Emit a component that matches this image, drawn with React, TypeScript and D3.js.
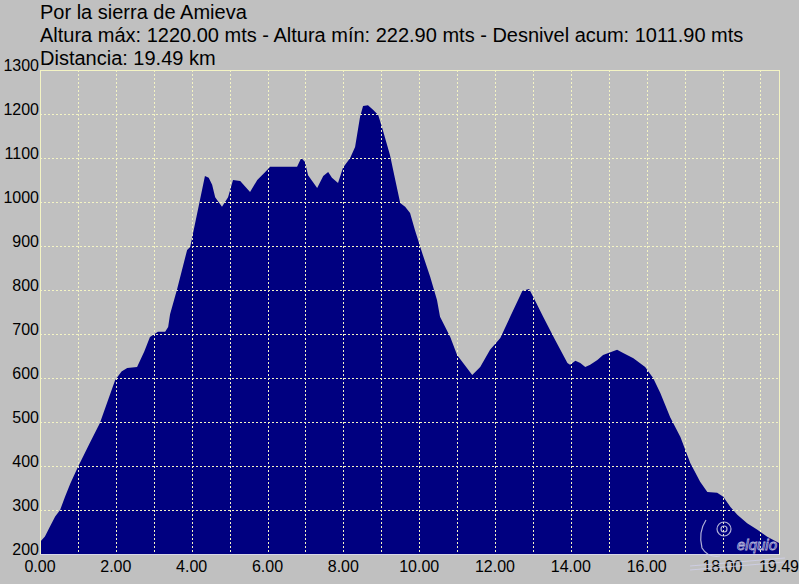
import React from "react";
import * as d3 from "d3";

const titleLines = [
  "Por la sierra de Amieva",
  "Altura máx: 1220.00 mts - Altura mín: 222.90 mts - Desnivel acum: 1011.90 mts",
  "Distancia: 19.49 km",
];

const distKm = [
  0.0, 0.13, 0.26, 0.4, 0.53, 0.66, 0.8, 1.0, 1.3, 1.58, 1.98, 2.15, 2.3, 2.56, 2.75, 2.9, 3.11, 3.3, 3.38, 3.43,
  3.61, 3.88, 3.96, 4.22, 4.35, 4.45, 4.54, 4.62, 4.8, 4.96, 5.09, 5.28, 5.54, 5.73, 5.94, 6.07, 6.78, 6.89, 6.99,
  7.07, 7.31, 7.47, 7.6, 7.7, 7.86, 7.99, 8.18, 8.31, 8.44, 8.52, 8.65, 8.79, 8.92, 9.02, 9.23, 9.37, 9.5, 9.63,
  9.76, 9.89, 10.08, 10.29, 10.47, 10.55, 10.82, 11.0, 11.16, 11.4, 11.61, 11.87, 12.14, 12.4, 12.72, 12.8, 12.9,
  13.01, 13.27, 13.59, 13.91, 13.98, 14.12, 14.25, 14.38, 14.51, 14.7, 14.85, 14.99, 15.22, 15.38, 15.65, 15.96,
  16.17, 16.36, 16.62, 16.89, 17.15, 17.41, 17.6, 17.86, 18.02, 18.21, 18.39, 18.65, 18.92, 19.18, 19.49,
];

const elevM = [
  227, 240, 262, 285, 300, 330, 360, 398, 450, 498, 595, 615, 623, 625, 660, 693, 705, 705, 716, 745,
  800, 891, 898, 1005, 1059, 1055, 1039, 1011, 989, 1011, 1050, 1048, 1023, 1050, 1068, 1080, 1080, 1100, 1091,
  1061, 1032, 1059, 1068, 1055, 1043, 1078, 1100, 1125, 1193, 1218, 1220, 1209, 1198, 1170, 1107, 1050, 998, 989,
  975, 936, 884, 830, 777, 739, 693, 652, 634, 607, 625, 664, 691, 739, 798, 800, 802,
  784, 739, 686, 634, 630, 639, 634, 625, 630, 641, 652, 657, 664, 657, 645, 625,
  600, 566, 511, 466, 407, 364, 341, 339, 330, 307, 289, 270, 255, 239, 225,
];

const yTicks = [200, 300, 400, 500, 600, 700, 800, 900, 1000, 1100, 1200, 1300];
const xLabelTicks = [0, 2, 4, 6, 8, 10, 12, 14, 16, 18];
const xGridTicks = d3.range(1, 20);
const totalKm = 19.49;

const W = 799;
const H = 584;
const BG = "#c0c0c0";
const FILL = "#000080";
const GRID = "#f4f4c4";
const FONT = "'Liberation Sans', Arial, sans-serif";

export default function App() {
  const x = d3.scaleLinear().domain([0, totalKm]).range([40, 779]);
  const y = d3.scaleLinear().domain([200, 1300]).range([554, 70]);

  const pts = distKm.map((d, i) => [d, elevM[i]] as [number, number]);
  const area = d3
    .area<[number, number]>()
    .x((d) => x(d[0]))
    .y0(y(200))
    .y1((d) => y(d[1]))
    .curve(d3.curveLinear);

  return (
    <div style={{ position: "fixed", left: 0, top: 0, width: W, height: H }}>
      <svg width={W} height={H} style={{ display: "block" }}>
        <rect x={0} y={0} width={W} height={H} fill={BG} />
        <path d={area(pts) || ""} fill={FILL} />
        {yTicks.slice(1, -1).map((t) => (
          <line key={"h" + t} x1={x(0)} x2={x(totalKm)} y1={Math.round(y(t)) + 0.5} y2={Math.round(y(t)) + 0.5}
            stroke={GRID} strokeWidth={1} strokeDasharray="2,2" />
        ))}
        {xGridTicks.map((t) => (
          <line key={"v" + t} x1={Math.round(x(t)) + 0.5} x2={Math.round(x(t)) + 0.5} y1={y(1300)} y2={y(200)}
            stroke={GRID} strokeWidth={1} strokeDasharray="2,2" />
        ))}
        <line x1={40.5} x2={40.5} y1={70} y2={555} stroke={GRID} />
        <line x1={40} x2={779.5} y1={70.5} y2={70.5} stroke={GRID} />
        <line x1={779.5} x2={779.5} y1={70} y2={555} stroke={GRID} />
        <line x1={40} x2={779.5} y1={554.5} y2={554.5} stroke="#d8d8e8" />
        {yTicks.map((t) => (
          <text key={"yl" + t} x={39} y={y(t) + 1} textAnchor="end" fontFamily={FONT} fontSize={16} fill="#000">
            {t}
          </text>
        ))}
        {xLabelTicks.map((t) => (
          <text key={"xl" + t} x={x(t)} y={572} textAnchor="middle" fontFamily={FONT} fontSize={16} fill="#000">
            {t.toFixed(2)}
          </text>
        ))}
        <text x={x(totalKm)} y={572} textAnchor="middle" fontFamily={FONT} fontSize={16} fill="#000">
          {totalKm.toFixed(2)}
        </text>
        {titleLines.map((s, i) => (
          <text key={"t" + i} x={40} y={18.5 + i * 23.2} fontFamily={FONT} fontSize={20} fill="#000">
            {s}
          </text>
        ))}
        <g fill="none" stroke="#d0d0e8" strokeWidth={1.2} opacity={0.85}>
          <path d="M706,520 q-8,12 -4,28 q6,10 18,8" />
          <circle cx={724} cy={529} r={7} />
          <circle cx={724} cy={529} r={3} />
          <text x={737} y={550} fontFamily={FONT} fontSize={15} fontStyle="italic" stroke="#d0d0e8" strokeWidth={0.8} fill="none">elquio</text>
          <path d="M690,566 l95,-8 M690,570 l95,-8" />
        </g>
      </svg>
    </div>
  );
}
